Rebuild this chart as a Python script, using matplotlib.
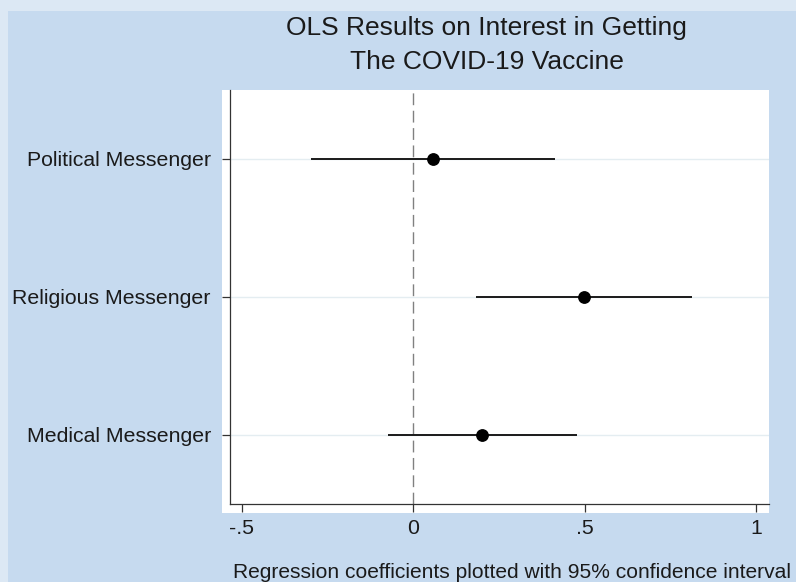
import matplotlib
matplotlib.use('Agg')
import matplotlib.pyplot as plt
from matplotlib.patches import Rectangle

plt.rcParams['font.family'] = ['Liberation Sans', 'DejaVu Sans']

# coefficient estimates and 95% CI
labels = ['Political Messenger', 'Religious Messenger', 'Medical Messenger']
coef = [0.057, 0.499, 0.201]
ci_low = [-0.299, 0.183, -0.073]
ci_high = [0.414, 0.814, 0.477]
xticks = [-0.5, 0, 0.5, 1]
xticklabels = ['-.5', '0', '.5', '1']

W, H = 796, 582
fig = plt.figure(figsize=(W/100, H/100), dpi=100)
fig.patch.set_facecolor('#c6daef')

# lighter outer strip on top/left
fig.patches.append(Rectangle((0, 1-11/H), 1, 11/H, transform=fig.transFigure,
                             facecolor='#dce8f4', edgecolor='none', zorder=-2))
fig.patches.append(Rectangle((0, 0), 8/W, 1, transform=fig.transFigure,
                             facecolor='#dce8f4', edgecolor='none', zorder=-2))
# white plot region (a bit larger than the axes)
fig.patches.append(Rectangle((222/W, (H-513)/H), (769-222)/W, (513-90)/H,
                             transform=fig.transFigure, facecolor='white',
                             edgecolor='none', zorder=-1))

ax = fig.add_axes([230/W, (H-504)/H, (769-230)/W, (504-90)/H])
ax.set_facecolor('none')

ypos = [1, 2, 3]
for y in ypos:
    ax.axhline(y, color='#e4edf1', lw=1.0, zorder=1)

ax.axvline(0, color='#808080', lw=1.0, dashes=(8.5, 4), zorder=2)

ax.hlines(ypos, ci_low, ci_high, color='#1a1a1a', lw=1.4, zorder=3)
ax.plot(coef, ypos, 'o', color='black', markersize=8.2, zorder=4)

ax.set_xlim(-0.535, 1.038)
ax.set_ylim(3.5, 0.5)
ax.set_yticks(ypos)
ax.set_yticklabels(labels, fontsize=15.3, color='#1a1a1a')
ax.set_xticks(xticks)
ax.set_xticklabels(xticklabels, fontsize=15.3, color='#1a1a1a')

for s in ['top', 'right']:
    ax.spines[s].set_visible(False)
for s in ['left', 'bottom']:
    ax.spines[s].set_color('#333333')
    ax.spines[s].set_linewidth(0.9)
ax.tick_params(axis='both', length=5.8, width=0.9, color='#333333')
ax.tick_params(axis='y', pad=8)
ax.tick_params(axis='x', pad=5)

fig.text(486/W, 1-28/H, 'OLS Results on Interest in Getting', ha='center',
         va='center', fontsize=19, color='#1a1a1a')
fig.text(487/W, 1-62/H, 'The COVID-19 Vaccine', ha='center',
         va='center', fontsize=19, color='#1a1a1a')
fig.text(233/W, 1-572/H, 'Regression coefficients plotted with 95% confidence interval',
         ha='left', va='center', fontsize=15.1, color='#1a1a1a')

fig.savefig('out.png', dpi=100)
